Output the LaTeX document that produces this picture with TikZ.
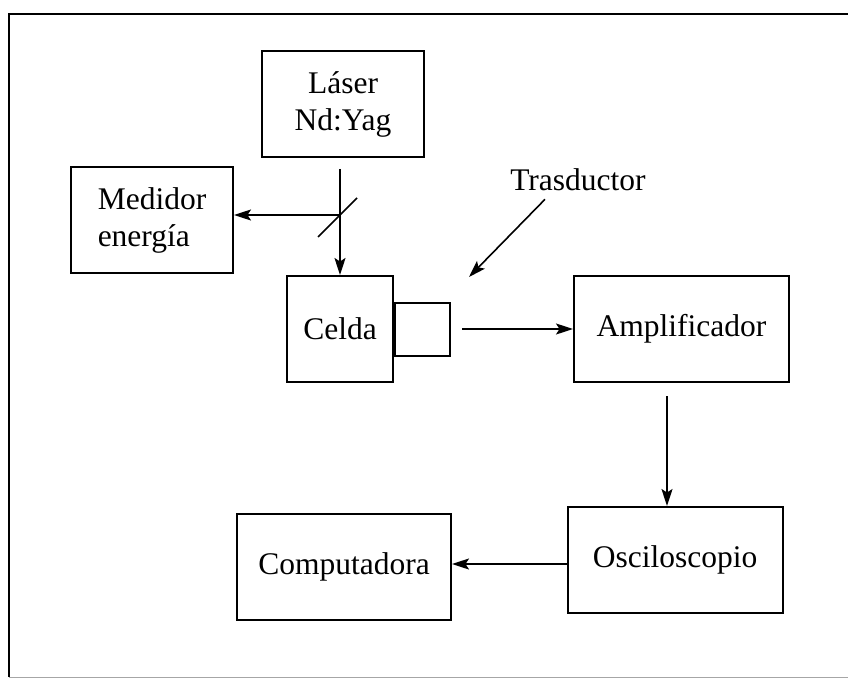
\documentclass[tikz,border=0pt]{standalone}
\usepackage{fontspec}
\setmainfont{Liberation Serif}
\usetikzlibrary{arrows.meta,positioning}

\begin{document}
\begin{tikzpicture}[x=1pt,y=-1pt,
  box/.style={rectangle, draw, line width=2pt, minimum width=162pt, minimum height=106pt, align=center, inner sep=0pt, font=\fontsize{31.5}{37}\selectfont},
  flecha/.style={-{Stealth[length=17pt,width=11pt,inset=3.5pt]}, line width=1.6pt}]

\useasboundingbox (0,0) rectangle (848,679);

% marco
\draw[line width=2pt] (860,14) -- (9,14) -- (9,677);
\draw[line width=1pt, black!35] (9,677) -- (860,677);

\node[box] (laser) at (343,104) {Láser\\Nd:Yag};

\node[box, align=left] (medidor) at (152,220) {Medidor\\energía};

\node[box, minimum width=106pt] (celda) at (340,329) {Celda};

\node[box, minimum width=55pt, minimum height=53pt, right=0pt of celda] (trans) {};

\node[box, minimum width=215pt, right=122pt of trans] (ampli) {Amplificador};

\node[box, minimum width=215pt] (osci) at (675,560) {Osciloscopio};

\node[box, minimum width=214pt] (compu) at (344,567) {Computadora};

\node[font=\fontsize{31.5}{37}\selectfont, inner sep=0pt] (tras) at (578,180) {Trasductor};

\coordinate (espejo) at (340,215);
\coordinate (trastip) at (469,277);
\coordinate (bajada) at (667,0);

\draw[flecha, shorten <=11pt] (laser.south -| espejo) -- (celda.north -| espejo);

\draw[flecha] (espejo) -- (medidor.east |- espejo);

\draw[line width=1.6pt] ([shift={(-22,22)}]espejo) -- ([shift={(17,-17)}]espejo);

\draw[flecha] ([shift={(-33,8)}]tras.south) -- (trastip);

\draw[flecha, shorten <=11pt] (trans.east) -- (ampli.west);

\draw[flecha, shorten <=13pt] (ampli.south -| bajada) -- (osci.north -| bajada);

\draw[flecha] (osci.west |- 0,564) -- (compu.east |- 0,564);

\end{tikzpicture}
\end{document}
